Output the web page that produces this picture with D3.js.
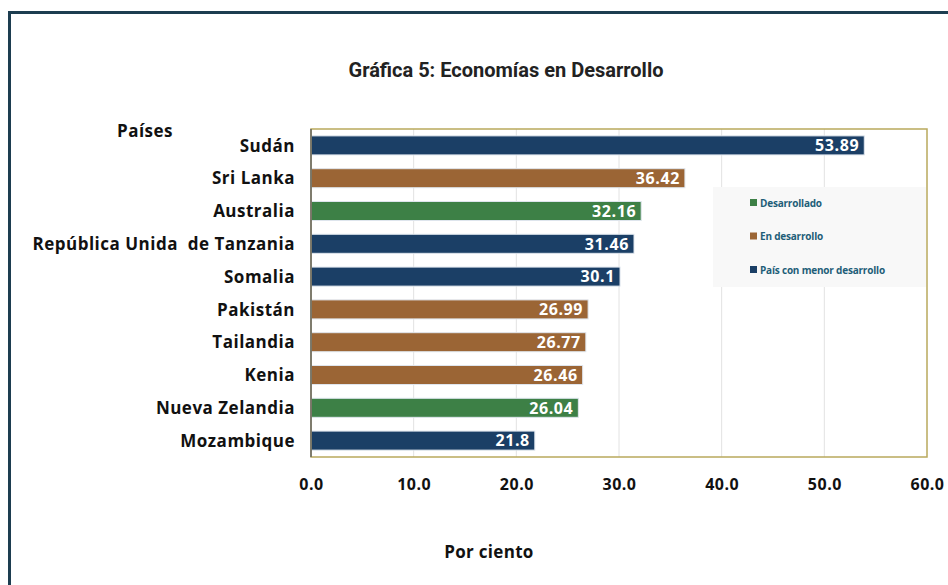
<!DOCTYPE html>
<meta charset="utf-8">
<title>Gráfica 5: Economías en Desarrollo</title>
<script src="https://d3js.org/d3.v7.min.js"></script>
<style>
body { margin: 0; background: #fff; }
svg text { font-family: "Open Sans", "Noto Sans", sans-serif; }
</style>
<body>
<div id="chart"></div>
<script>
// data
var countries = ["Sudán", "Sri Lanka", "Australia", "República Unida  de Tanzania", "Somalia",
                 "Pakistán", "Tailandia", "Kenia", "Nueva Zelandia", "Mozambique"];
var values = [53.89, 36.42, 32.16, 31.46, 30.1, 26.99, 26.77, 26.46, 26.04, 21.8];
var groups = ["Menor", "En", "Des", "Menor", "Menor", "En", "En", "En", "Des", "Menor"];
var groupKeys = ["Des", "En", "Menor"];
var groupLabels = ["Desarrollado", "En desarrollo", "País con menor desarrollo"];
var xTicks = [0, 10, 20, 30, 40, 50, 60];

var W = 948, H = 585;
var margin = {top: 129, right: 21, bottom: 128, left: 311};
var width = W - margin.left - margin.right,
    height = H - margin.top - margin.bottom;

var svg = d3.select("#chart").append("svg")
  .attr("width", W).attr("height", H);

// outer frame
svg.append("rect")
  .attr("x", 9.5).attr("y", 12.5)
  .attr("width", 1000).attr("height", 1000)
  .attr("fill", "none").attr("stroke", "#1d3d50").attr("stroke-width", 3);

svg.append("text")
  .attr("x", 506).attr("y", 77)
  .attr("text-anchor", "middle")
  .style("font-family", "'Liberation Sans Narrow', 'Roboto', sans-serif")
  .style("font-size", "20px").style("font-weight", "bold")
  .attr("fill", "#222")
  .text("Gráfica 5: Economías en Desarrollo");

var g = svg.append("g")
  .attr("transform", "translate(" + margin.left + "," + margin.top + ")");

var x = d3.scaleLinear().domain([0, 60]).range([0, width]);
var y = d3.scaleBand().domain(countries).range([0, height]).paddingInner(0.42).paddingOuter(0.21);
var color = d3.scaleOrdinal().domain(groupKeys).range(["#3d8046", "#9b6535", "#1b3f66"]);

// gridlines
g.selectAll(".grid").data(xTicks.slice(1, -1)).enter().append("line")
  .attr("x1", d => x(d)).attr("x2", d => x(d))
  .attr("y1", 0).attr("y2", height)
  .attr("stroke", "#e2e2e2").attr("stroke-width", 1);

// legend background
var leg = g.append("g").attr("transform", "translate(" + (713 - margin.left) + "," + (187 - margin.top) + ")");
leg.append("rect").attr("width", 213).attr("height", 100).attr("fill", "#f8f8f8");
groupKeys.forEach(function(k, i) {
  var row = leg.append("g").attr("transform", "translate(37," + (16 + i * 33.5) + ")");
  row.append("rect").attr("x", 0).attr("y", -4).attr("width", 7).attr("height", 7).attr("fill", color(k));
  row.append("text").attr("x", 10).attr("y", 0).attr("dy", "0.35em")
    .attr("fill", "#1e5e78").style("font-size", "10px").style("font-weight", "bold")
    .style("letter-spacing", "-0.2px")
    .text(groupLabels[i]);
});

// bars
g.selectAll(".bar").data(countries).enter().append("rect")
  .attr("x", 0)
  .attr("y", d => y(d))
  .attr("width", (d, i) => x(values[i]))
  .attr("height", y.bandwidth())
  .attr("fill", (d, i) => color(groups[i]))
  .attr("stroke", "#dfe6ee").attr("stroke-width", 1);

// value labels
g.selectAll(".val").data(countries).enter().append("text")
  .attr("x", (d, i) => x(values[i]) - 5)
  .attr("y", d => y(d) + y.bandwidth() / 2)
  .attr("dy", "0.36em")
  .attr("text-anchor", "end")
  .attr("fill", "#fff")
  .style("font-size", "16px").style("font-weight", "bold")
  .style("letter-spacing", "0.6px")
  .text((d, i) => values[i]);

// plot border
g.append("rect").attr("width", width).attr("height", height)
  .attr("fill", "none").attr("stroke", "#b9a95c").attr("stroke-width", 1.5);
g.append("line").attr("x1", 0).attr("x2", 0).attr("y1", 0).attr("y2", height)
  .attr("stroke", "#666").attr("stroke-width", 1.5);

// category labels
g.selectAll(".cat").data(countries).enter().append("text")
  .attr("x", -16)
  .attr("y", d => y(d) + y.bandwidth() / 2)
  .attr("dy", "0.36em")
  .attr("text-anchor", "end")
  .style("white-space", "pre")
  .attr("fill", "#111")
  .style("font-size", "17px").style("font-weight", "bold")
  .style("letter-spacing", "0.5px")
  .text(d => d);

// x axis
var xAxis = g.append("g")
  .attr("transform", "translate(0," + height + ")")
  .call(d3.axisBottom(x).tickValues(xTicks).tickFormat(d3.format(".1f")).tickSize(0).tickPadding(22));
xAxis.select(".domain").remove();
xAxis.selectAll("text")
  .attr("fill", "#111")
  .style("font-family", "'Open Sans', sans-serif")
  .style("font-size", "16px").style("font-weight", "bold")
  .style("letter-spacing", "0.5px");

svg.append("text").attr("x", 145).attr("y", 137).attr("text-anchor", "middle")
  .attr("fill", "#111").style("font-size", "17px").style("font-weight", "bold")
  .style("letter-spacing", "0.5px")
  .text("Países");

svg.append("text").attr("x", 489).attr("y", 558).attr("text-anchor", "middle")
  .attr("fill", "#111").style("font-size", "17px").style("font-weight", "bold")
  .style("letter-spacing", "0.3px")
  .text("Por ciento");
</script>
